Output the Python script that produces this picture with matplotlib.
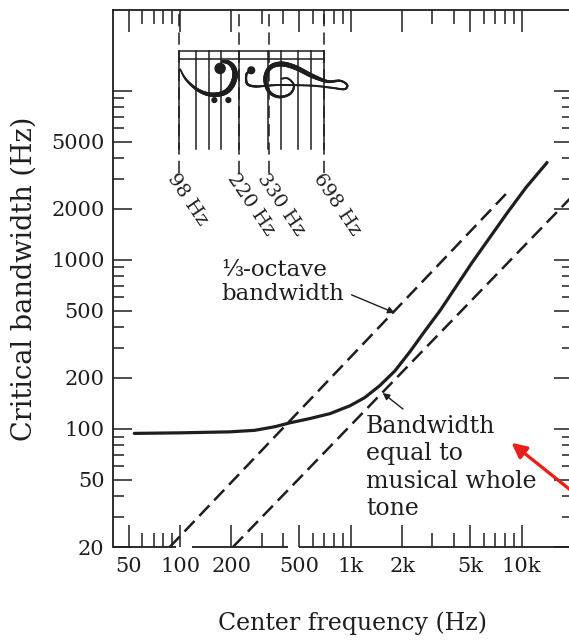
import numpy as np
import matplotlib
matplotlib.use("Agg")
import matplotlib.pyplot as plt
from matplotlib.ticker import FixedLocator, FixedFormatter, NullFormatter
from matplotlib.collections import LineCollection
from matplotlib.patches import Circle
from matplotlib.transforms import ScaledTranslation

plt.rcParams['font.family'] = ['DejaVu Serif']

# critical bandwidth vs. center frequency (both Hz)
cb_freq = [54, 100, 196, 274, 360, 439, 575, 755, 990, 1206, 1477, 1811,
           2220, 2720, 3330, 5120, 8260, 10600, 14100]
cb_width = [94, 94.7, 96, 98, 103, 108.5, 115, 123, 137, 153, 180, 220,
            286, 380, 500, 960, 1900, 2670, 3760]

# 1/3-octave bandwidth line (end points)
third_freq = [87, 8500]
third_width = [20, 2580]

# whole-tone bandwidth line (end points)
tone_freq = [204, 20000]
tone_width = [20, 2400]

# staff lines (bass + treble), and the labelled ones
staff_freqs = [98, 123.5, 146.8, 174.6, 220, 329.6, 392, 493.9, 587.3, 698.5]
marked_freqs = [98, 220, 330, 698]
marked_labels = ['98 Hz', '220 Hz', '330 Hz', '698 Hz']

x_major = [50, 100, 200, 500, 1000, 2000, 5000, 10000]
x_major_labels = ['50', '100', '200', '500', '1k', '2k', '5k', '10k']
x_minor = [60, 70, 80, 90, 300, 400, 600, 700, 800, 900,
           3000, 4000, 6000, 7000, 8000, 9000]
y_major = [20, 50, 100, 200, 500, 1000, 2000, 5000, 10000]
y_major_labels = ['20', '50', '100', '200', '500', '1000', '2000', '5000', '']
y_minor = [30, 40, 60, 70, 80, 90, 300, 400, 600, 700, 800, 900,
           3000, 4000, 6000, 7000, 8000, 9000]

# pieces of the bottom axis line (it is broken where the dashed lines land)
base_pieces = [(40.5, 95), (117, 430), (500, 20000)]

# clef outlines in staff spaces, upright: (across, along pitch)
bass_path = [(-1.02, 0.07), (-0.95, 0.5), (-0.59, 0.86), (0.0, 0.98),
             (0.71, 0.74), (1.19, 0.26), (1.36, -0.45), (1.26, -1.16),
             (0.88, -1.88), (0.24, -2.55), (-0.48, -2.95)]
bass_weight = [3.0, 4.0, 5.0, 5.5, 5.5, 5.0, 4.5, 3.8, 3.0, 2.2, 1.4]
bass_dots = [(-0.52, -0.09, 0.36), (1.74, -0.5, 0.17), (1.74, 0.5, 0.17)]

treble_path = [(-0.8, -2.3), (-0.6, -2.5), (0.05, -2.45), (0.25, -1.9),
               (0.2, -1.0), (0.15, 0.0), (0.2, 2.2), (0.35, 3.6),
               (0.45, 4.5), (0.15, 4.7), (-0.15, 4.2), (-0.1, 3.3),
               (-0.5, 2.2), (-1.1, 1.0), (-1.35, 0.0), (-1.1, -0.8),
               (-0.3, -1.15), (0.6, -0.9), (1.0, -0.2), (0.8, 0.6),
               (0.2, 0.9), (-0.3, 0.5), (-0.3, 0.0)]
treble_weight = [2.0, 2.2, 2.4, 2.4, 2.0, 2.0, 2.0, 2.0, 2.0, 2.0, 2.2, 3.0,
                 4.5, 5.0, 5.0, 4.6, 4.0, 3.4, 2.8, 2.4, 2.0, 1.8, 1.6]
treble_dots = [(-0.9, -2.15, 0.24)]

fig = plt.figure(figsize=(5.69, 6.41), dpi=100)
ax = fig.add_axes([0.1986, 0.1466, 0.8084, 0.8378])
ax.set_xscale('log')
ax.set_yscale('log')
ax.set_xlim(40.5, 20000)
ax.set_ylim(20, 30000)

ink = '#1e1e1e'


def catmull(pts, n=10):
    p = np.asarray(pts, float)
    p = np.vstack([p[0], p, p[-1]])
    out = []
    for i in range(1, len(p) - 2):
        p0, p1, p2, p3 = p[i - 1], p[i], p[i + 1], p[i + 2]
        for t in np.linspace(0, 1, n, endpoint=False):
            out.append(0.5 * (2 * p1 + (p2 - p0) * t
                              + (2 * p0 - 5 * p1 + 4 * p2 - p3) * t ** 2
                              + (3 * p1 - p0 - 3 * p2 + p3) * t ** 3))
    out.append(p[-2])
    return np.array(out)


def draw_clef(freq, width, path, weights, dots, space=14):
    # staff runs sideways, so pitch goes to the right
    tr = ScaledTranslation(freq, width, ax.transData)
    uv = catmull(path)
    w = np.interp(np.linspace(0, len(path) - 1, len(uv)),
                  np.arange(len(path)), weights)
    xy = np.column_stack([uv[:, 1] * space, -uv[:, 0] * space])
    segs = np.stack([xy[:-1], xy[1:]], axis=1)
    lw = 0.5 * (w[:-1] + w[1:]) * 72 / fig.dpi
    ax.add_collection(LineCollection(segs, linewidths=lw, colors=ink,
                                     capstyle='round', transform=tr),
                      autolim=False)
    for u, v, r in dots:
        ax.add_patch(Circle((v * space, -u * space), r * space, color=ink,
                            transform=tr))


ax.plot(cb_freq, cb_width, color=ink, lw=2.3, solid_capstyle='round')
ax.plot(third_freq, third_width, color=ink, lw=1.8, dashes=(5.8, 2.8))
ax.plot(tone_freq, tone_width, color=ink, lw=1.8, dashes=(5.8, 2.8))

# staff drawn sideways near the top
for f in marked_freqs:
    ax.plot([f, f], [3240, 30000], color=ink, lw=1.1, dashes=(8, 4))
for f in staff_freqs:
    ax.plot([f, f], [4530, 17200], color=ink, lw=1.1)
for w in [15300, 17200]:
    ax.plot([staff_freqs[0], staff_freqs[-1]], [w, w], color=ink, lw=1.1)
for f, lab in zip(marked_freqs, marked_labels):
    ax.text(f, 3400, lab, rotation=-56, rotation_mode='anchor',
            ha='left', va='top', fontsize=14, color=ink)

draw_clef(174.6, 12260, bass_path, bass_weight, bass_dots)
draw_clef(392, 11120, treble_path, treble_weight, treble_dots)

ax.text(174, 1012, '\u2153-octave\nbandwidth', fontsize=16.5, color=ink,
        ha='left', va='top', linespacing=1.12)
ax.annotate('', xy=(1808, 485), xytext=(1010, 620),
            arrowprops=dict(arrowstyle='-|>', color=ink, lw=1.0,
                            mutation_scale=10, shrinkA=0, shrinkB=0))

ax.text(1226, 121, 'Bandwidth\nequal to\nmusical whole\ntone', fontsize=17,
        color=ink, ha='left', va='top', linespacing=1.25)
ax.annotate('', xy=(1537, 163), xytext=(2020, 131),
            arrowprops=dict(arrowstyle='-|>', color=ink, lw=1.0,
                            mutation_scale=10, shrinkA=0, shrinkB=0))

ax.annotate('', xy=(8730, 82.6), xytext=(20300, 41.8),
            arrowprops=dict(arrowstyle='-|>', color='#e8201a', lw=2.4,
                            mutation_scale=22, shrinkA=0, shrinkB=0),
            annotation_clip=False)

ax.xaxis.set_major_locator(FixedLocator(x_major))
ax.xaxis.set_major_formatter(FixedFormatter(x_major_labels))
ax.xaxis.set_minor_locator(FixedLocator(x_minor))
ax.xaxis.set_minor_formatter(NullFormatter())
ax.yaxis.set_major_locator(FixedLocator(y_major))
ax.yaxis.set_major_formatter(FixedFormatter(y_major_labels))
ax.yaxis.set_minor_locator(FixedLocator(y_minor))
ax.yaxis.set_minor_formatter(NullFormatter())

ax.tick_params(which='both', direction='in', top=True, right=True,
               color=ink, width=1.1, labelsize=15, labelcolor=ink)
ax.tick_params(axis='x', which='major', length=15.5, pad=7)
ax.tick_params(axis='x', which='minor', length=10)
ax.tick_params(axis='y', which='major', length=14, pad=6)
ax.tick_params(axis='y', which='minor', length=8)
for s in ax.spines.values():
    s.set_color(ink)
    s.set_linewidth(1.3)

# bottom axis line drawn in pieces
ax.spines['bottom'].set_visible(False)
for lo, hi in base_pieces:
    ax.plot([lo, hi], [0, 0], color=ink, lw=1.3, clip_on=False,
            solid_capstyle='butt', transform=ax.get_xaxis_transform(),
            zorder=3)

ax.set_xlabel('Center frequency (Hz)', fontsize=17, color=ink, labelpad=26)
ax.xaxis.label.set_x(0.52)
ax.set_ylabel('Critical bandwidth (Hz)', fontsize=19.5, color=ink, labelpad=10)

fig.savefig('out.png', dpi=100)
